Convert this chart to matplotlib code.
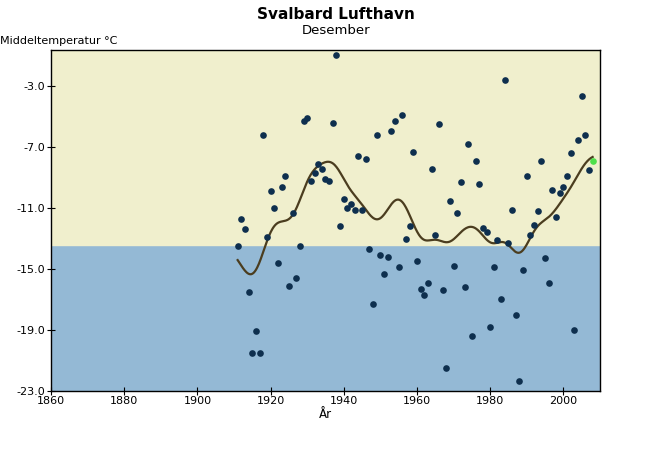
#!/usr/bin/env python3
import numpy as np
import matplotlib.pyplot as plt

# December mean temperature, Svalbard Lufthavn
years = list(range(1911, 2009))
temps = [
    -13.5, -11.7, -12.4, -16.5, -20.5, -19.1, -20.5, -6.2, -12.9, -9.9,    # 1911-1920
    -11.0, -14.6, -9.6, -8.9, -16.1, -11.3, -15.6, -13.5, -5.3, -5.1,      # 1921-1930
    -9.2, -8.7, -8.1, -8.4, -9.1, -9.2, -5.4, -0.95, -12.2, -10.4,         # 1931-1940
    -11.0, -10.7, -11.1, -7.6, -11.1, -7.8, -13.7, -17.3, -6.2, -14.1,     # 1941-1950
    -15.3, -14.2, -5.9, -5.3, -14.9, -4.9, -13.0, -12.2, -7.3, -14.5,      # 1951-1960
    -16.3, -16.7, -15.9, -8.4, -12.8, -5.5, -16.4, -21.5, -10.5, -14.8,    # 1961-1970
    -11.3, -9.3, -16.2, -6.8, -19.4, -7.9, -9.4, -12.3, -12.6, -18.8,      # 1971-1980
    -14.9, -13.1, -17.0, -2.6, -13.3, -11.1, -18.0, -22.4, -15.1, -8.9,    # 1981-1990
    -12.8, -12.1, -11.2, -7.9, -14.3, -15.9, -9.8, -11.6, -10.0, -9.6,     # 1991-2000
    -8.9, -7.4, -19.0, -6.5, -3.6, -6.2, -8.5, -7.9,                       # 2001-2008
]
normal = -13.4  # normal value, splits the background colours
yticks = [-3.0, -7.0, -11.0, -15.0, -19.0, -23.0]
xticks = list(range(1860, 2001, 20))


def gauss_smooth(x, y, sigma, grid):
    # Gaussian low-pass, weights renormalised at the ends
    x = np.asarray(x, dtype=float)
    y = np.asarray(y, dtype=float)
    out = []
    for g in grid:
        w = np.exp(-0.5 * ((x - g) / sigma) ** 2)
        out.append(np.sum(w * y) / np.sum(w))
    return np.array(out)


fig = plt.figure(figsize=(6.5, 4.5), dpi=100)
ax = fig.add_axes([0.0785, 0.132, 0.8445, 0.757])

ymin, ymax = -23.0, -0.6
ax.axhspan(ymin, normal, color='#94b9d5', zorder=0)
ax.axhspan(normal, ymax, color='#f0efcd', zorder=0)

grid = np.linspace(years[0], years[-1], 600)
ax.plot(grid, gauss_smooth(years, temps, 3.0, grid), color='#4b3d1f', lw=1.6, zorder=2)

ax.plot(years[:-1], temps[:-1], 'o', color='#0e2f4e', ms=4.8, mew=0, zorder=3)
ax.plot(years[-1:], temps[-1:], 'o', color='#4ee04a', ms=4.8, mew=0, zorder=4)

ax.set_xlim(1860, 2010)
ax.set_ylim(ymin, ymax)
ax.set_xticks(xticks)
ax.set_yticks(yticks)
ax.set_yticklabels(['%.1f' % v for v in yticks])
ax.tick_params(direction='inout', length=6, width=0.8, labelsize=8, pad=1)
for s in ax.spines.values():
    s.set_linewidth(1.0)

fig.text(0.517, 0.968, 'Svalbard Lufthavn', ha='center', va='center', fontsize=11, weight='bold')
fig.text(0.517, 0.933, 'Desember', ha='center', va='center', fontsize=9.5)
fig.text(0.0, 0.908, 'Middeltemperatur \u00b0C', ha='left', va='center', fontsize=8)
ax.set_xlabel('År', fontsize=8.5, labelpad=1)

fig.savefig('out.png', dpi=100)
